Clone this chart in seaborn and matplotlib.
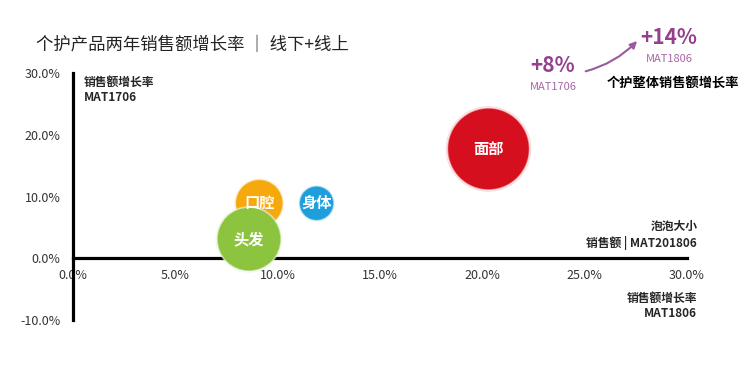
import pandas as pd
import matplotlib.pyplot as plt
import seaborn as sns

# Data: category, growth MAT1806 (x), growth MAT1706 (y), relative sales (bubble size)
categories = ['面部', '身体', '口腔', '头发']
growth_1806 = [20.3, 11.9, 9.1, 8.6]
growth_1706 = [17.7, 8.9, 8.9, 3.1]
sales = [100, 18, 34, 61]
colors = ['#d50f1d', '#1e9fdb', '#f5a90c', '#8cc43f']

x_ticks = [0, 5, 10, 15, 20, 25, 30]
y_ticks = [-10, 0, 10, 20, 30]


def main():
    df = pd.DataFrame({'cat': categories, 'x': growth_1806, 'y': growth_1706, 'sales': sales})

    sns.set_style('white')
    plt.rcParams['font.family'] = ['Noto Sans CJK SC', 'DejaVu Sans']

    fig = plt.figure(figsize=(7.42, 3.67), dpi=100)
    ax = fig.add_axes([73 / 742, 1 - 320 / 367, (687 - 73) / 742, (320 - 73) / 367])
    palette = dict(zip(categories, colors))

    # soft glow behind bubbles
    sns.scatterplot(data=df, x='x', y='y', hue='cat', palette=palette, size='sales',
                    sizes=(0, 3800), size_norm=(0, 100), alpha=0.15, linewidth=0,
                    legend=False, ax=ax, zorder=3)
    sns.scatterplot(data=df, x='x', y='y', hue='cat', palette=palette, size='sales',
                    sizes=(0, 3500), size_norm=(0, 100), edgecolor=(1, 1, 1, 0.55),
                    linewidth=1.2, legend=False, ax=ax, zorder=4)

    for _, r in df.iterrows():
        ax.text(r['x'], r['y'], r['cat'], color='white', fontsize=11, fontweight='bold',
                ha='center', va='center', zorder=5)

    ax.set_xlim(0, 30)
    ax.set_ylim(-10, 30)
    ax.set_xticks(x_ticks)
    ax.set_yticks(y_ticks)
    ax.set_xticklabels([f'{v:.1f}%' for v in x_ticks])
    ax.set_yticklabels([f'{v:.1f}%' for v in y_ticks])
    ax.tick_params(axis='x', length=0, pad=8, labelsize=9, labelcolor='#333333')
    ax.tick_params(axis='y', length=0, pad=9, labelsize=9, labelcolor='#333333')
    ax.set_xlabel('')
    ax.set_ylabel('')

    ax.spines['top'].set_visible(False)
    ax.spines['right'].set_visible(False)
    ax.spines['bottom'].set_position(('data', 0))
    ax.spines['left'].set_position(('data', 0))
    for s in ('bottom', 'left'):
        ax.spines[s].set_linewidth(2.3)
        ax.spines[s].set_color('black')
        ax.spines[s].set_zorder(2)

    # titles and axis notes
    fig.text(36 / 742, 1 - 45 / 367, '个护产品两年销售额增长率 ｜ 线下+线上', fontsize=12.5,
             color='#222222', va='center', ha='left')
    ax.text(0.55, 29.5, '销售额增长率\nMAT1706', fontsize=8.5, fontweight='bold',
            va='top', ha='left', linespacing=1.2)
    ax.text(30.5, 1.4, '泡泡大小\n销售额 | MAT201806', fontsize=8.5, fontweight='bold',
            va='bottom', ha='right', linespacing=1.2)
    ax.text(30.5, -5.5, '销售额增长率\nMAT1806', fontsize=8.5, fontweight='bold',
            va='top', ha='right', linespacing=1.2)

    # overall growth callout
    fig.text(553 / 742, 1 - 66 / 367, '+8%', fontsize=15, fontweight='bold',
             color='#94408f', ha='center', va='center')
    fig.text(553 / 742, 1 - 87 / 367, 'MAT1706', fontsize=8, color='#a865a6',
             ha='center', va='center')
    fig.text(669 / 742, 1 - 38 / 367, '+14%', fontsize=15, fontweight='bold',
             color='#94408f', ha='center', va='center')
    fig.text(669 / 742, 1 - 59 / 367, 'MAT1806', fontsize=8, color='#a865a6',
             ha='center', va='center')
    fig.text(739 / 742, 1 - 84 / 367, '个护整体销售额增长率', fontsize=9.5, fontweight='bold',
             color='black', ha='right', va='center')
    ax.annotate('', xy=(639 / 742, 1 - 39 / 367), xytext=(583 / 742, 1 - 72 / 367),
                xycoords='figure fraction', textcoords='figure fraction',
                arrowprops=dict(arrowstyle='-|>', color='#9a5a9f', lw=1.5,
                                connectionstyle='arc3,rad=0.15', mutation_scale=10))

    fig.savefig('out.png', dpi=100)
    plt.close(fig)


if __name__ == '__main__':
    main()
